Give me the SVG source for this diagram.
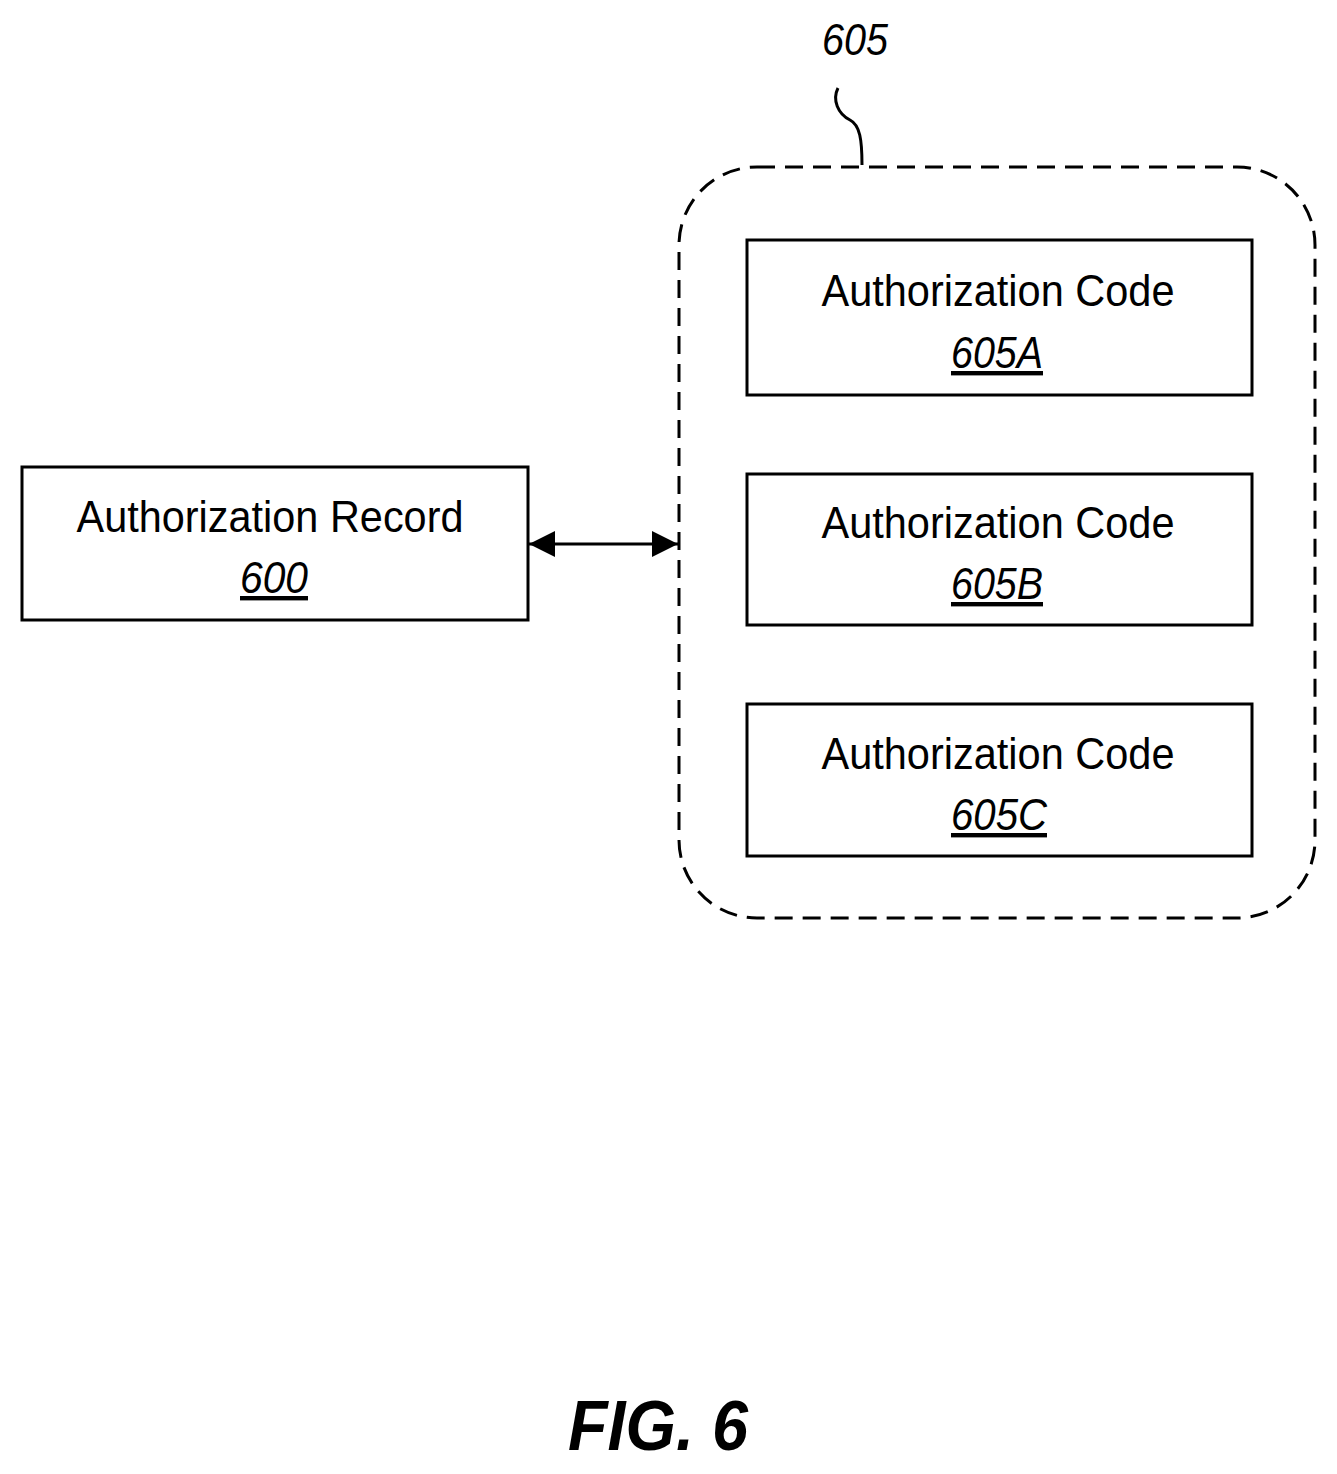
<svg xmlns="http://www.w3.org/2000/svg" width="1337" height="1474" viewBox="0 0 1337 1474">
<style>
.box{fill:#fff;stroke:#000;stroke-width:3}
.t{font-family:"Liberation Sans",Arial,sans-serif;font-size:44px;text-anchor:middle}
.n{font-style:italic;text-decoration:underline}
</style>
<defs>
<marker id="ah" viewBox="0 0 10 10" refX="10" refY="5" markerWidth="8" markerHeight="8" orient="auto-start-reverse" markerUnits="userSpaceOnUse"><path d="M0,0L10,5L0,10z"/></marker>
<marker id="a" viewBox="0 0 10 10" refX="10" refY="5" markerWidth="26" markerHeight="26" orient="auto-start-reverse" markerUnits="userSpaceOnUse"><path d="M0,0L10,5L0,10z"/></marker>
</defs>
<rect width="1337" height="1474" fill="#fff"/>
<g id="group605">
<rect x="679" y="167" width="636" height="751" rx="78" fill="none" stroke="#000" stroke-width="3" stroke-dasharray="18,10"/>
<path d="M862,165 C862,140 860,125 850,120 C838,114 832,100 838,88" fill="none" stroke="#000" stroke-width="3"/>
<text x="855" y="55" class="t" font-style="italic" textLength="66" lengthAdjust="spacingAndGlyphs">605</text>
</g>
<g id="node600"><rect class="box" x="22" y="467" width="506" height="153"/>
<text x="270" y="532" class="t" textLength="387" lengthAdjust="spacingAndGlyphs">Authorization Record</text>
<text x="274" y="593" class="t n" textLength="68" lengthAdjust="spacingAndGlyphs">600</text></g>
<g id="node605A"><rect class="box" x="747" y="240" width="505" height="155"/>
<text x="998" y="306" class="t" textLength="353" lengthAdjust="spacingAndGlyphs">Authorization Code</text>
<text x="997" y="368" class="t n" textLength="92" lengthAdjust="spacingAndGlyphs">605A</text></g>
<g id="node605B"><rect class="box" x="747" y="474" width="505" height="151"/>
<text x="998" y="538" class="t" textLength="353" lengthAdjust="spacingAndGlyphs">Authorization Code</text>
<text x="997" y="599" class="t n" textLength="92" lengthAdjust="spacingAndGlyphs">605B</text></g>
<g id="node605C"><rect class="box" x="747" y="704" width="505" height="152"/>
<text x="998" y="769" class="t" textLength="353" lengthAdjust="spacingAndGlyphs">Authorization Code</text>
<text x="999" y="830" class="t n" textLength="96" lengthAdjust="spacingAndGlyphs">605C</text></g>
<g id="connectors">
<line x1="529" y1="544" x2="678" y2="544" stroke="#000" stroke-width="3" marker-start="url(#a)" marker-end="url(#a)"/>
</g>
<text x="658" y="1450" font-family="Liberation Sans,Arial,sans-serif" font-size="70" font-weight="bold" font-style="italic" text-anchor="middle" textLength="180" lengthAdjust="spacingAndGlyphs">FIG. 6</text>
</svg>
